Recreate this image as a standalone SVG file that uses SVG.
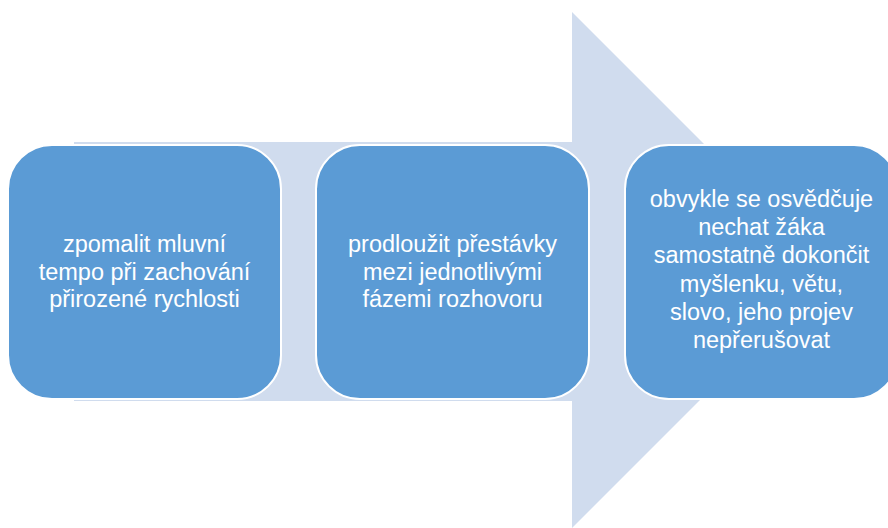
<svg xmlns="http://www.w3.org/2000/svg" width="888" height="528" viewBox="0 0 888 528">
  <style>
    .step { fill: #5B9BD5; stroke: #FFFFFF; stroke-width: 2; }
    .label { fill: #FFFFFF; font-family: "Liberation Sans", Arial, sans-serif; font-size: 23.5px; text-anchor: middle; }
  </style>
  <rect width="888" height="528" fill="#FFFFFF"/>
  <!-- background process arrow -->
  <g id="connectors">
    <polygon points="74,142 572,142 572,12 830,270 572,528 572,401 74,401" fill="#D0DCEE"/>
  </g>
  <g id="step1">
    <rect class="step" x="8" y="145" width="273" height="254" rx="44" ry="44"/>
    <text class="label" x="144.5" y="252">zpomalit mluvní</text>
    <text class="label" x="144.5" y="280">tempo při zachování</text>
    <text class="label" x="144.5" y="307">přirozené rychlosti</text>
  </g>
  <g id="step2">
    <rect class="step" x="316" y="145" width="273" height="254" rx="44" ry="44"/>
    <text class="label" x="452.5" y="252">prodloužit přestávky</text>
    <text class="label" x="452.5" y="280">mezi jednotlivými</text>
    <text class="label" x="452.5" y="307">fázemi rozhovoru</text>
  </g>
  <g id="step3">
    <rect class="step" x="625" y="145" width="273" height="254" rx="44" ry="44"/>
    <text class="label" x="761.5" y="207">obvykle se osvědčuje</text>
    <text class="label" x="761.5" y="235">nechat žáka</text>
    <text class="label" x="761.5" y="263">samostatně dokončit</text>
    <text class="label" x="761.5" y="292">myšlenku, větu,</text>
    <text class="label" x="761.5" y="320">slovo, jeho projev</text>
    <text class="label" x="761.5" y="348">nepřerušovat</text>
  </g>
</svg>
